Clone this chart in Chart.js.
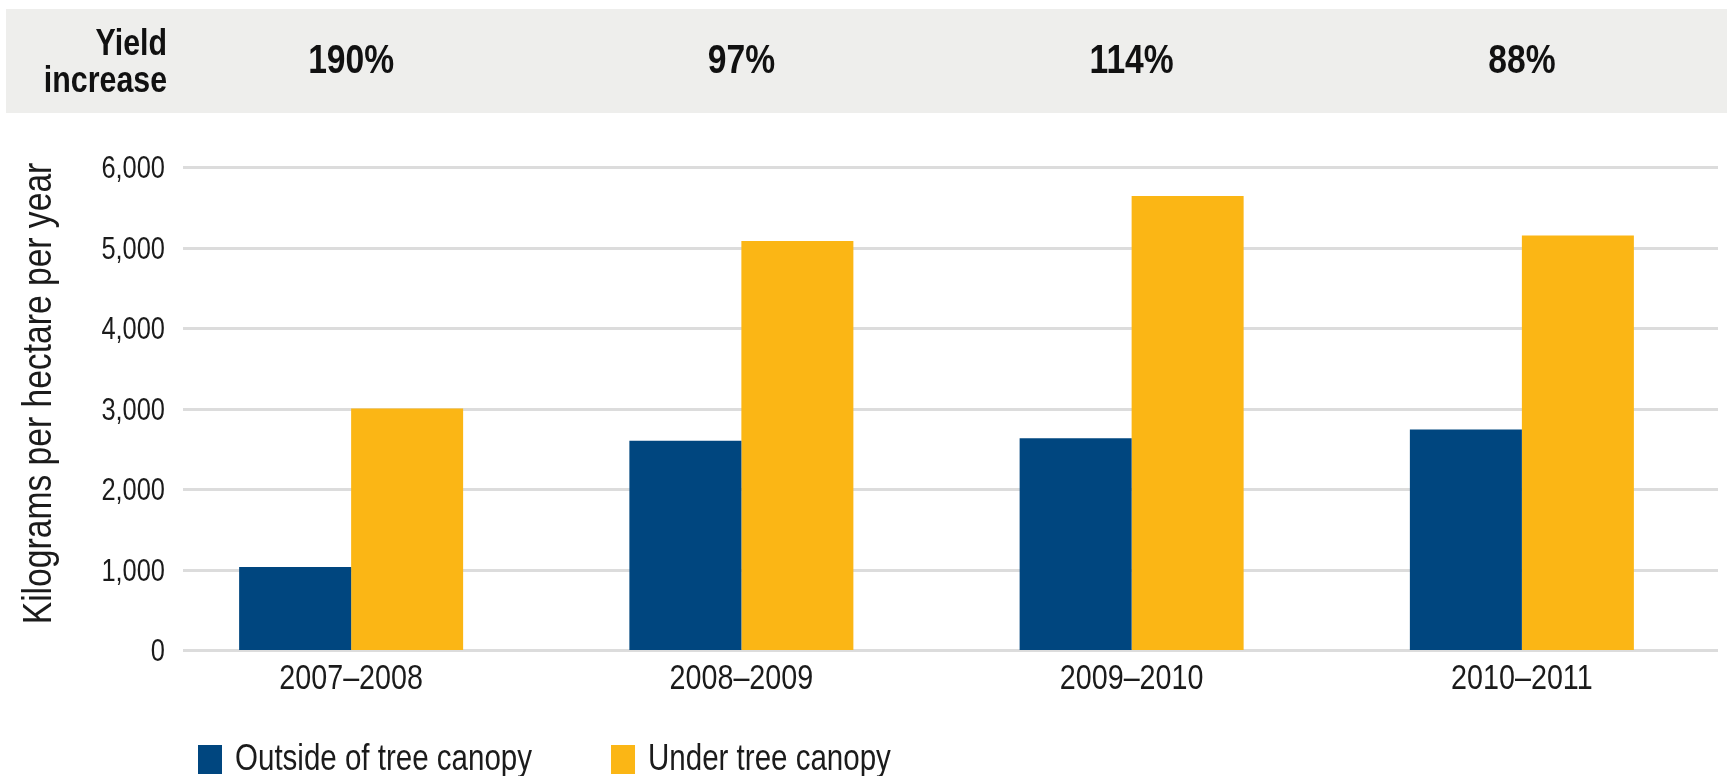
<!DOCTYPE html>
<html>
<head>
<meta charset="utf-8">
<script src="https://cdn.jsdelivr.net/npm/chart.js@4.4.1/dist/chart.umd.min.js"></script>
<style>
    html, body { margin: 0; padding: 0; background: #fff; }
    canvas { display: block; }
</style>
</head>
<body>
<canvas id="yieldChart" width="1727" height="776"></canvas>
<script>
// 収穫期ごとの収量 (kg/ha/年)
const seasons = ['2007–2008', '2008–2009', '2009–2010', '2010–2011'];
const outsideCanopy = [1030, 2600, 2630, 2740];
const underCanopy = [3000, 5080, 5640, 5150];
const yieldIncrease = ['190%', '97%', '114%', '88%'];
const yTicks = [0, 1000, 2000, 3000, 4000, 5000, 6000];
const seriesNames = ['Outside of tree canopy', 'Under tree canopy'];
const seriesColors = ['#00467f', '#fbb615'];
const yTitle = 'Kilograms per hectare per year';

const FONT = '"Liberation Sans", Arial, sans-serif';
const NARROW = 0.82; // 横方向に詰めてコンデンス書体風にする
const TEXT_COLOR = '#1b1b1b';

// 横幅を詰めた文字列を描く
function narrowText(ctx, text, x, y, align, font, rotate) {
    ctx.save();
    ctx.translate(x, y);
    if (rotate) ctx.rotate(rotate);
    ctx.scale(NARROW, 1);
    ctx.font = font;
    ctx.textAlign = align;
    ctx.textBaseline = 'alphabetic';
    ctx.fillText(text, 0, 0);
    const w = ctx.measureText(text).width * NARROW;
    ctx.restore();
    return w;
}

// 上部の「Yield increase」帯・グリッド線・軸ラベル・凡例を描くプラグイン
const decorPlugin = {
    id: 'decor',
    beforeDraw(chart) {
        const { ctx, width } = chart;
        ctx.save();
        ctx.fillStyle = '#eeeeec';
        ctx.fillRect(6, 9, width - 6, 104);
        ctx.restore();
    },
    beforeDatasetsDraw(chart) {
        // 横グリッド線（左端は少し空ける）
        const { ctx, chartArea, scales } = chart;
        ctx.save();
        ctx.strokeStyle = '#dcdcdc';
        ctx.lineWidth = 3;
        yTicks.forEach(v => {
            const py = Math.round(scales.y.getPixelForValue(v)) + 0.5;
            ctx.beginPath();
            ctx.moveTo(chartArea.left + 27, py);
            ctx.lineTo(chartArea.right + 1, py);
            ctx.stroke();
        });
        ctx.restore();
    },
    afterDraw(chart) {
        const { ctx, chartArea, scales } = chart;
        ctx.save();
        ctx.fillStyle = '#111';

        // 見出し
        narrowText(ctx, 'Yield', 167, 55, 'right', `bold 37px ${FONT}`);
        narrowText(ctx, 'increase', 167, 92, 'right', `bold 37px ${FONT}`);

        // 各期の増加率
        yieldIncrease.forEach((txt, i) => {
            narrowText(ctx, txt, scales.x.getPixelForValue(i), 73, 'center', `bold 41px ${FONT}`);
        });

        ctx.fillStyle = TEXT_COLOR;

        // y軸目盛
        yTicks.forEach(v => {
            const py = scales.y.getPixelForValue(v);
            narrowText(ctx, v.toLocaleString('en-US'), chartArea.left + 9, py + 11, 'right', `31px ${FONT}`);
        });

        // y軸タイトル
        const midY = (chartArea.top + chartArea.bottom) / 2 - 15;
        narrowText(ctx, yTitle, 51, midY, 'center', `41px ${FONT}`, -Math.PI / 2);

        // x軸ラベル
        seasons.forEach((s, i) => {
            narrowText(ctx, s, scales.x.getPixelForValue(i), chartArea.bottom + 39, 'center', `35px ${FONT}`);
        });

        // 凡例
        let lx = chartArea.left + 42;
        seriesNames.forEach((name, i) => {
            ctx.fillStyle = seriesColors[i];
            ctx.fillRect(lx, 745, 24, 29);
            ctx.fillStyle = TEXT_COLOR;
            const w = narrowText(ctx, name, lx + 37, 770, 'left', `36px ${FONT}`);
            lx += 37 + w + 79;
        });
        ctx.restore();
    }
};

function init() {
    const ctx = document.getElementById('yieldChart').getContext('2d');
    new Chart(ctx, {
        type: 'bar',
        data: {
            labels: seasons,
            datasets: [
                { label: seriesNames[0], data: outsideCanopy, backgroundColor: seriesColors[0] },
                { label: seriesNames[1], data: underCanopy, backgroundColor: seriesColors[1] }
            ]
        },
        options: {
            responsive: false,
            animation: false,
            devicePixelRatio: 1,
            layout: { padding: { top: 167, right: 10, bottom: 0, left: 0 } },
            datasets: {
                bar: { categoryPercentage: 0.574, barPercentage: 1.0, borderWidth: 0 }
            },
            plugins: {
                legend: { display: false },
                tooltip: { enabled: false }
            },
            scales: {
                x: {
                    grid: { display: false, drawTicks: false },
                    border: { display: false },
                    ticks: { display: false },
                    afterFit(scale) { scale.height = 126; }
                },
                y: {
                    min: 0,
                    max: 6000,
                    grid: { display: false, drawTicks: false },
                    border: { display: false },
                    ticks: { display: false, stepSize: 1000 },
                    afterFit(scale) { scale.width = 156; }
                }
            }
        },
        plugins: [decorPlugin]
    });
}

document.fonts.load(`37px ${FONT}`).then(init, init);
</script>
</body>
</html>
